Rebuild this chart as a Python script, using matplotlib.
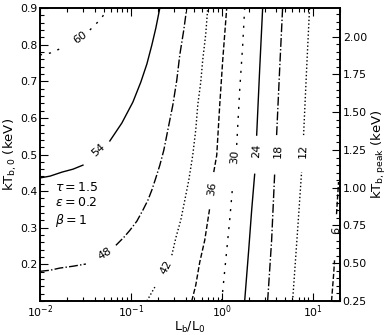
import numpy as np
import matplotlib
matplotlib.use('Agg')
import matplotlib.pyplot as plt
from matplotlib.ticker import MultipleLocator, FormatStrFormatter

nan = np.nan

# Contour levels (L_b/L_0, kT_b,0); nan = gap for the label
lb60 = [0.0100, 0.0129, 0.0175, nan, 0.0354, 0.0434, 0.0492, 0.0545]
kt60 = [0.772, 0.777, 0.791, nan, 0.840, 0.862, 0.878, 0.900]

lb54 = [0.0100, 0.0129, 0.0175, 0.0231, 0.0297, nan, 0.0587, 0.0796, 0.1052, 0.1288,
        0.150, 0.1702, 0.1882, 0.2084]
kt54 = [0.436, 0.441, 0.452, 0.460, 0.471, nan, 0.537, 0.586, 0.643, 0.698,
        0.747, 0.799, 0.845, 0.900]

lb48 = [0.0100, 0.0129, 0.0166, 0.0231, 0.0320, nan, 0.0684, 0.0838, 0.0975, 0.1164,
        0.1355, 0.1538, 0.1702, 0.1882, 0.2084, 0.2306, 0.2487, 0.2683, 0.2896,
        0.3202, 0.3455, 0.3823, 0.4123]
kt48 = [0.181, 0.184, 0.190, 0.195, 0.201, nan, 0.252, 0.274, 0.293, 0.318,
        0.348, 0.375, 0.403, 0.436, 0.471, 0.512, 0.553, 0.594, 0.635,
        0.703, 0.772, 0.840, 0.900]

lb42 = [0.150, 0.1659, 0.1836, nan, 0.2823, 0.3122, 0.3543, 0.3921, 0.4340, 0.4797,
        0.5178, 0.5447, 0.5878, 0.6180, 0.6670, 0.7015]
kt42 = [0.100, 0.119, 0.138, nan, 0.225, 0.272, 0.321, 0.375, 0.430, 0.498,
        0.567, 0.635, 0.698, 0.758, 0.829, 0.900]

lb36 = [0.4677, 0.5178, 0.5729, 0.6502, 0.7379, nan, 0.817, 0.8812, 0.9506, 1.026, 1.135]
kt36 = [0.100, 0.143, 0.206, 0.266, 0.354, nan, 0.452, 0.498, 0.635, 0.758, 0.900]

lb30 = [1.000, 1.107, 1.224, 1.321, nan, 1.462, 1.577, 1.702, 1.789]
kt30 = [0.100, 0.211, 0.321, 0.416, nan, 0.526, 0.676, 0.799, 0.900]

lb24 = [1.789, 1.981, 2.136, 2.305, nan, 2.425, 2.615, 2.822]
kt24 = [0.100, 0.239, 0.348, 0.446, nan, 0.553, 0.731, 0.900]

lb18 = [3.202, 3.543, 3.823, nan, 4.020, 4.338, 4.680]
kt18 = [0.100, 0.266, 0.446, nan, 0.553, 0.731, 0.900]

lb12 = [6.026, 6.842, 7.569, nan, 7.962, 8.590, 9.268]
kt12 = [0.100, 0.293, 0.452, nan, 0.553, 0.731, 0.900]

lb6 = [16.17, 17.02, 17.45, nan, 18.35, 18.82, 19.31]
kt6 = [0.100, 0.170, 0.211, nan, 0.337, 0.381, 0.425]

# label positions
levels = [60, 54, 48, 42, 36, 30, 24, 18, 12, 6]
label_lb = [0.0279, 0.0434, 0.0518, 0.2424, 0.776, 1.390, 2.425, 4.125, 7.865, 18.35]
label_kt = [0.819, 0.512, 0.228, 0.192, 0.408, 0.493, 0.509, 0.509, 0.509, 0.293]
label_rot = [35, 42, 32, 62, 83, 86, 87, 88, 88, 88]

yticks_left = [0.2, 0.3, 0.4, 0.5, 0.6, 0.7, 0.8, 0.9]
yticks_right = [0.25, 0.50, 0.75, 1.00, 1.25, 1.50, 1.75, 2.00]

loose = (0, (1.5, 5))
curves = [(lb60, kt60, loose), (lb54, kt54, '-'), (lb48, kt48, '-.'),
          (lb42, kt42, ':'), (lb36, kt36, '--'), (lb30, kt30, loose),
          (lb24, kt24, '-'), (lb18, kt18, '-.'), (lb12, kt12, ':'),
          (lb6, kt6, '--')]

fig = plt.figure(figsize=(3.9, 3.35), dpi=100)
ax = fig.add_axes([0.1026, 0.1015, 0.769, 0.8746])

for xs, ys, ls in curves:
    ax.plot(xs, ys, color='k', lw=1.0, ls=ls)

for lev, x, y, r in zip(levels, label_lb, label_kt, label_rot):
    ax.text(x, y, str(lev), rotation=r, ha='center', va='center',
            rotation_mode='anchor', fontsize=8)

ax.set_xscale('log')
ax.set_xlim(0.01, 20)
ax.set_ylim(0.1, 0.9)
ax.set_yticks(yticks_left)
ax.yaxis.set_minor_locator(MultipleLocator(0.02))
ax.set_xlabel(r'$\mathrm{L_b/L_0}$', fontsize=9, labelpad=0)
ax.set_ylabel(r'$\mathrm{kT_{b,0}}$ (keV)', fontsize=9.5, labelpad=1)
ax.tick_params(which='both', direction='in', top=True, right=False, labelsize=7.8,
               width=0.8, pad=2)
ax.tick_params(which='major', length=5.5)
ax.tick_params(which='minor', length=3)

ax.text(0.05, 0.41, '$\\tau = 1.5$\n$\\epsilon = 0.2$\n$\\beta = 1$',
        transform=ax.transAxes, ha='left', va='top', fontsize=9, linespacing=1.25)

# Right axis: peak temperature
ax2 = ax.twinx()
ax2.set_ylim(0.25, 2.19)
ax2.set_yticks(yticks_right)
ax2.yaxis.set_major_formatter(FormatStrFormatter('%.2f'))
ax2.yaxis.set_minor_locator(MultipleLocator(0.05))
ax2.set_ylabel(r'$\mathrm{kT_{b,peak}}$ (keV)', fontsize=9.5, labelpad=2)
ax2.tick_params(which='both', direction='in', labelsize=7.8, width=0.8, pad=2)
ax2.tick_params(which='major', length=5.5)
ax2.tick_params(which='minor', length=3)

for a in (ax, ax2):
    for s in a.spines.values():
        s.set_linewidth(1.2)

fig.savefig('out.png', dpi=100)
